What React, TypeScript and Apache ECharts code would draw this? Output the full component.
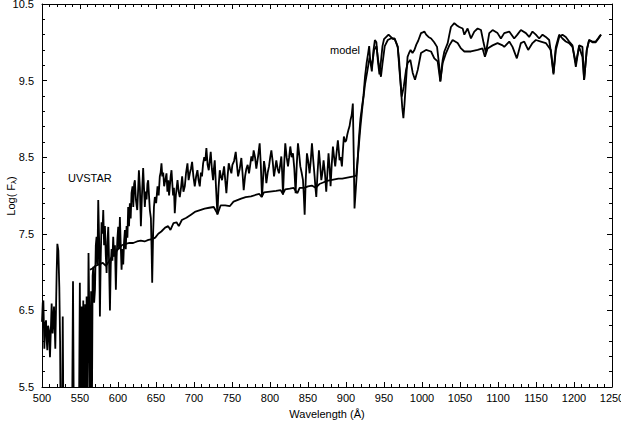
import React, { useEffect, useRef } from "react";
import * as echarts from "echarts";

// UVSTAR observed spectrum: wavelength (Å) and log flux
const uvstarWavelength: number[] = [
  500, 501, 501.8, 503.1, 504, 505.3, 506.2, 507, 508, 509.2, 510.5, 511.5, 512.7, 514, 515.8, 516.8, 517.5, 518.5,
  519.3, 520.2, 521.5, 522.8, 523.8, 524.5, 526.5, 527.3, 528.2, 539.6, 540.8, 541.9, 548.6, 549.8, 550.9, 552.3,
  553.2, 554.3, 555.3, 556.8, 557.7, 558.7, 559.8, 561.2, 562.3, 563.3, 564.6, 565.6, 566.6, 567.5, 568.6, 569.7,
  570.8, 571.8, 572.9, 574, 575.1, 576.2, 577.3, 578.4, 579.5, 580.6, 581.7, 582.8, 584, 585, 586.1, 587.2, 588.3,
  589.4, 590.5, 591.6, 592.6, 593.7, 594.8, 596, 597.2, 598.2, 599.3, 600.3, 601.4, 602.5, 603.6, 604.7, 605.8,
  606.9, 608, 609.1, 610.2, 611.3, 612.4, 613.4, 614.5, 615.6, 616.7, 617.8, 619.1, 620.1, 621.2, 622.2, 623.5,
  625.3, 626.4, 627.5, 628.8, 630.1, 631.5, 633.1, 634.2, 635.3, 636.5, 637.6, 638.7, 639.7, 640.8, 641.9, 643.3,
  644.2, 645, 646.2, 647.3, 648.5, 650.2, 652, 653.5, 655, 656.1, 657.2, 658.3, 659.5, 660.7, 662.2, 663.8, 665,
  666.2, 667.2, 668.2, 669.3, 670.4, 671.5, 672.5, 673.6, 674.7, 676.1, 677.2, 678.3, 679.8, 681.3, 682.9, 684.4,
  686.1, 687.9, 689.6, 691.4, 692.9, 694.5, 696, 697.5, 699.2, 701, 702.8, 704.5, 706, 707.6, 709.1, 710.5, 712,
  713.5, 714.9, 716.3, 717.9, 719.4, 720.7, 722, 723.5, 725.1, 726.2, 727.3, 729, 730.8, 732.3, 733.9, 735.4,
  736.9, 738.3, 739.6, 741.1, 742.6, 744.2, 745.7, 747.4, 749.2, 750.5, 752.7, 754.9, 756.5, 758, 760.2, 762.3,
  763.8, 765.4, 767.2, 768.9, 770.6, 772.4, 774, 775.5, 777, 778.5, 780.3, 782, 784.2, 786.4, 787.9, 789.5, 790.8,
  792.1, 793.6, 795.2, 797, 798.7, 800.3, 801.8, 803.5, 805.3, 806.8, 808.3, 810, 811.8, 813.4, 814.9, 816, 817.1,
  818.6, 820.1, 821.9, 823.7, 825.2, 826.7, 828.5, 830.2, 832, 833.7, 835.2, 836.8, 838.3, 839.9, 841.6, 843.4,
  844.5, 845.6, 847, 848.6, 850.3, 852.1, 853.6, 855.2, 857, 858.7, 859.8, 860.9, 862.6, 864.4, 866, 867.5, 869,
  870.5, 872.2, 874, 875.5, 877, 878.5, 879.7, 881.2, 882.8, 884.3, 885.8, 887.5, 889.3, 890.4, 891.5, 893, 894.6,
  896, 897.2, 898.8, 900.3, 901.8, 903.3, 904.6, 906, 907.5, 909, 910.2, 911.2, 913, 915, 917, 919, 921, 923, 925,
  927, 929, 930.5, 932, 934, 936, 938, 940, 942, 944, 946, 948, 950, 953, 956, 959, 962, 964, 966, 968, 970, 972,
  974, 975.5, 977, 979, 981, 983, 985, 987.5, 990, 992.5, 995, 998.7, 1001, 1003.1, 1005.5, 1008.5, 1012, 1016,
  1019.8, 1022.8, 1024.1, 1027.2, 1029.4, 1033.8, 1036, 1038.1, 1042.5, 1046, 1049.1, 1053.5, 1055.7, 1060, 1064.4,
  1068.8, 1073.2, 1077.6, 1081.1, 1084.1, 1088.5, 1092.9, 1099.4, 1103.8, 1108.2, 1114.8, 1121.3, 1125.5, 1130.1,
  1136.7, 1141, 1145.4, 1149.8, 1154.2, 1158.6, 1162.9, 1167.3, 1169.5, 1173, 1176.1, 1180.5, 1184.8, 1189.2,
  1193.6, 1198, 1202.4, 1206.7, 1211.1, 1213.3, 1216.8, 1219.9, 1224.2, 1228.6, 1233, 1235.5,
];
const uvstarLogFlux: number[] = [
  6.35, 6.6, 6.63, 6.0, 6.3, 6.37, 6.1, 5.98, 6.3, 6.24, 5.89, 6.2, 6.59, 6.2, 6.55, 6.25, 6.0, 6.55,
  7.0, 7.37, 7.28, 6.8, 6.1, 5.0, 5.0, 6.42, 5.0, 5.0, 6.88, 5.0, 5.0, 6.86, 5.0, 6.55,
  5.0, 6.63, 5.0, 6.58, 5.0, 6.68, 5.0, 7.25, 6.4, 5.0, 6.75, 5.0, 6.95, 7.07, 6.6, 6.77,
  7.35, 7.46, 7.1, 7.94, 7.45, 6.42, 7.2, 7.65, 7.5, 7.81, 7.35, 7.6, 7.2, 6.99, 7.4, 7.59, 7.1,
  6.5, 7.1, 7.3, 7.15, 7.46, 7.2, 7.35, 6.77, 7.2, 7.45, 7.59, 7.3, 7.72, 7.35, 7.03, 7.3,
  7.1, 7.4, 7.55, 7.3, 7.6, 7.45, 7.85, 7.6, 7.9, 7.7, 8.03, 8.12, 7.85, 8.15, 8.2, 7.95,
  7.81, 8.05, 8.33, 8.1, 7.6, 8.0, 8.36, 8.1, 7.85, 8.05, 7.95, 8.15, 8.2, 8.0, 7.81, 7.7,
  7.3, 6.86, 7.5, 7.85, 7.98, 7.9, 8.12, 8.0, 8.25, 8.3, 8.42, 8.25, 8.3, 8.12, 8.2, 8.29, 8.05,
  8.2, 8.0, 8.12, 8.25, 8.33, 8.15, 8.0, 8.1, 7.77, 8.0, 8.1, 8.2, 8.05, 7.98, 8.1, 8.25,
  8.05, 8.12, 8.3, 8.42, 8.2, 8.29, 8.35, 8.44, 8.25, 8.12, 8.25, 8.33, 8.2, 8.12, 8.3, 8.25, 8.42,
  8.5, 8.45, 8.62, 8.4, 8.33, 8.45, 8.57, 8.35, 8.2, 8.35, 8.46, 8.1, 7.75, 8.1, 8.33, 8.25,
  8.2, 8.3, 8.38, 8.2, 8.03, 8.25, 8.42, 8.35, 8.29, 8.4, 8.45, 8.57, 8.4, 8.25, 8.35, 8.49,
  8.3, 8.07, 8.25, 8.35, 8.4, 8.29, 8.4, 8.51, 8.45, 8.59, 8.5, 8.35, 8.5, 8.68, 8.4, 7.98, 8.2,
  8.45, 8.35, 8.16, 8.3, 8.38, 8.5, 8.59, 8.45, 8.25, 8.35, 8.46, 8.35, 8.29, 8.4, 8.51, 8.3, 8.01,
  8.4, 8.68, 8.5, 8.38, 8.5, 8.64, 8.5, 8.55, 8.35, 8.03, 8.4, 8.68, 8.55, 8.38, 8.3, 8.2,
  8.0, 7.75, 8.2, 8.55, 8.45, 8.29, 8.45, 8.68, 8.45, 8.25, 8.1, 7.98, 8.3, 8.59, 8.4, 8.2, 8.3,
  8.46, 8.3, 8.05, 8.29, 8.55, 8.35, 8.12, 8.4, 8.64, 8.5, 8.38, 8.55, 8.72, 8.6, 8.46, 8.5, 8.38,
  8.6, 8.77, 8.7, 8.72, 8.8, 8.86, 8.9, 8.99, 9.05, 9.2, 8.5, 7.83, 8.1, 8.4, 8.75, 9.0, 9.15, 9.3, 9.55,
  9.72, 9.85, 9.95, 9.75, 9.62, 9.88, 10.03, 10.0, 9.75, 9.58, 9.75, 9.95, 10.04, 10.07, 10.1, 10.07, 10.04, 10.05, 10.0, 9.94, 9.75, 9.45,
  9.15, 9.01, 9.2, 9.5, 9.81, 9.86, 9.9, 9.86, 9.9, 9.97, 10.02, 10.12, 10.13, 10.14, 10.1, 10.07, 10.05, 10.0,
  9.94, 9.68, 9.49, 9.77, 9.88, 9.99, 10.1, 10.2, 10.25, 10.22, 10.2, 10.18, 10.1, 10.18, 10.05,
  10.14, 10.18, 10.16, 9.99, 9.86, 10.12, 10.16, 10.12, 10.05, 10.12, 10.14, 10.05, 10.1, 10.16,
  10.12, 10.07, 10.14, 10.1, 10.05, 10.1, 10.07, 10.03, 9.88, 9.58, 9.9, 10.07, 10.1, 10.07,
  10.01, 9.96, 9.68, 9.96, 9.94, 9.51, 9.9, 10.03, 10.01, 10.01, 10.07, 10.1,
];

// Model spectrum: wavelength (Å) and log flux
const modelWavelength: number[] = [
  563, 567, 570, 575, 580, 584, 588, 592, 596, 600, 605, 610, 615, 620, 625, 630, 635, 640, 645, 649, 653, 657,
  662, 666, 669, 673, 677, 680, 684, 690, 696, 702, 708, 714, 720, 726, 731, 735, 741, 747, 752, 757, 762, 768,
  775, 782, 786, 789, 792, 800, 808, 814, 817, 820, 826, 831, 836, 839, 845, 850, 855, 860, 865, 870, 875, 880,
  885, 890, 895, 900, 905, 910, 913.4, 916, 919, 922, 925, 928, 931, 934, 937, 940, 943, 946, 948, 951, 955, 959,
  963.7, 968.1, 970.3, 973.3, 976, 979, 981.2, 984.7, 987.8, 990.8, 994.4, 998.7, 1005.3, 1011.9, 1016.2, 1020.6,
  1024.1, 1027.2, 1031.6, 1036, 1040.3, 1046.9, 1051.3, 1055.7, 1064.4, 1073.2, 1079.7, 1082.8, 1086.3, 1092.9,
  1099.4, 1106, 1108.2, 1114.8, 1119.1, 1124.8, 1130.1, 1134.5, 1139.7, 1145.4, 1149.8, 1156.4, 1162.9, 1169.5,
  1173, 1176.1, 1180.5, 1184.8, 1189.2, 1193.6, 1198, 1202.4, 1206.7, 1211.1, 1213.3, 1216.8, 1219.9, 1224.2,
  1228.6, 1233, 1235.5,
];
const modelLogFlux: number[] = [
  7.03, 7.05, 7.08, 7.1, 7.12, 7.08, 7.14, 7.2, 7.25, 7.3, 7.35, 7.37, 7.38, 7.38, 7.4, 7.41, 7.4, 7.42, 7.43, 7.45, 7.5, 7.53,
  7.58, 7.6, 7.55, 7.64, 7.65, 7.6, 7.68, 7.71, 7.75, 7.79, 7.81, 7.83, 7.84, 7.85, 7.76, 7.87, 7.87, 7.86, 7.92, 7.94, 7.96, 7.98,
  7.99, 8.01, 8.02, 7.98, 8.04, 8.05, 8.06, 8.07, 8.02, 8.08, 8.09, 8.1, 8.03, 8.1, 8.1, 8.12, 8.13, 8.1, 8.15, 8.17, 8.19, 8.2,
  8.21, 8.22, 8.22, 8.23, 8.24, 8.25, 8.26, 8.55, 8.9, 9.2, 9.45, 9.62, 9.8, 9.68, 9.9, 9.95, 9.72, 9.55, 9.72, 9.95, 10.03, 10.05,
  10.05, 9.94, 9.64, 9.29, 9.42, 9.64, 9.73, 9.77, 9.6, 9.51, 9.64, 9.86, 9.9, 9.88, 9.79, 9.75,
  9.49, 9.73, 9.86, 9.96, 10.03, 9.99, 9.92, 9.88, 9.88, 9.9, 9.92, 9.81, 9.92, 9.96,
  9.99, 9.96, 9.94, 10.01, 9.94, 9.79, 9.99, 10.01, 9.9, 9.99, 10.03, 10.01, 9.99, 9.9,
  9.6, 9.94, 10.1, 10.05, 10.01, 9.99, 9.94, 9.73, 9.94, 9.81, 9.51, 9.9, 10.03, 10.0,
  10.0, 10.06, 10.1,
];

const xTickMin = 500;
const xTickMax = 1250;
const xTickStep = 50;
const yTickMin = 5.5;
const yTickMax = 10.5;
const yTickStep = 1;

const FONT = "'Liberation Sans', Arial, Helvetica, sans-serif";

function zip(xs: number[], ys: number[]): number[][] {
  const n = Math.min(xs.length, ys.length);
  const out: number[][] = [];
  for (let i = 0; i < n; i++) out.push([xs[i], ys[i]]);
  return out;
}

export default function App() {
  const ref = useRef<HTMLDivElement>(null);

  useEffect(() => {
    document.body.style.margin = "0";
    if (!ref.current) return;
    const chart = echarts.init(ref.current, null, { renderer: "svg" });

    const axisLineStyle = { show: true, lineStyle: { color: "#000", width: 1 } };
    const tick = { show: true, inside: true, length: 5, lineStyle: { color: "#000", width: 1 } };
    const minor = { show: true, splitNumber: 5, length: 3, lineStyle: { color: "#000", width: 1 } };

    const xBase = {
      type: "value" as const,
      min: xTickMin,
      max: xTickMax,
      interval: xTickStep,
      axisLine: axisLineStyle,
      axisTick: tick,
      minorTick: minor,
      splitLine: { show: false },
      minorSplitLine: { show: false },
    };
    const yBase = {
      type: "value" as const,
      min: yTickMin,
      max: yTickMax,
      interval: yTickStep,
      axisLine: axisLineStyle,
      axisTick: tick,
      minorTick: minor,
      splitLine: { show: false },
      minorSplitLine: { show: false },
    };

    chart.setOption({
      animation: false,
      backgroundColor: "#fff",
      grid: { left: 42, right: 9, top: 4, bottom: 38, containLabel: false, outerBoundsMode: "none" },
      xAxis: [
        {
          ...xBase,
          position: "bottom",
          name: "Wavelength (Å)",
          nameLocation: "middle",
          nameGap: 21,
          nameTextStyle: { fontFamily: FONT, fontSize: 11, color: "#000" },
          axisLabel: {
            show: true,
            fontFamily: FONT,
            fontSize: 11,
            color: "#000",
            margin: 5,
            formatter: (v: number) => String(v),
          },
        },
        {
          ...xBase,
          position: "top",
          axisLabel: { show: false },
        },
      ],
      yAxis: [
        {
          ...yBase,
          position: "left",
          axisLabel: {
            show: true,
            fontFamily: FONT,
            fontSize: 11,
            color: "#000",
            margin: 8,
            formatter: (v: number) => v.toFixed(1),
          },
        },
        {
          ...yBase,
          position: "right",
          axisLabel: { show: false },
        },
      ],
      series: [
        {
          name: "UVSTAR",
          type: "line",
          data: zip(uvstarWavelength, uvstarLogFlux),
          showSymbol: false,
          symbol: "none",
          clip: true,
          lineStyle: { color: "#000", width: 1.8 },
          xAxisIndex: 0,
          yAxisIndex: 0,
        },
        {
          name: "model",
          type: "line",
          data: zip(modelWavelength, modelLogFlux),
          showSymbol: false,
          symbol: "none",
          clip: true,
          lineStyle: { color: "#000", width: 1.8 },
          xAxisIndex: 0,
          yAxisIndex: 0,
        },
      ],
      graphic: [
        {
          type: "text",
          x: 11,
          y: 196,
          rotation: Math.PI / 2,
          style: {
            text: "Log( F{sub|λ})",
            fontFamily: FONT,
            fontSize: 11,
            fill: "#000",
            align: "center",
            verticalAlign: "middle",
            rich: {
              sub: { fontFamily: FONT, fontSize: 8, fill: "#000", verticalAlign: "bottom", padding: [5, 0, 0, 0] },
            },
          },
        },
        {
          type: "text",
          left: 68,
          top: 172,
          style: { text: "UVSTAR", fontFamily: FONT, fontSize: 11, fill: "#000" },
        },
        {
          type: "text",
          left: 330,
          top: 44,
          style: { text: "model", fontFamily: FONT, fontSize: 11, fill: "#000" },
        },
      ],
    });

    return () => {
      chart.dispose();
    };
  }, []);

  return <div ref={ref} style={{ width: 621, height: 425 }} />;
}
